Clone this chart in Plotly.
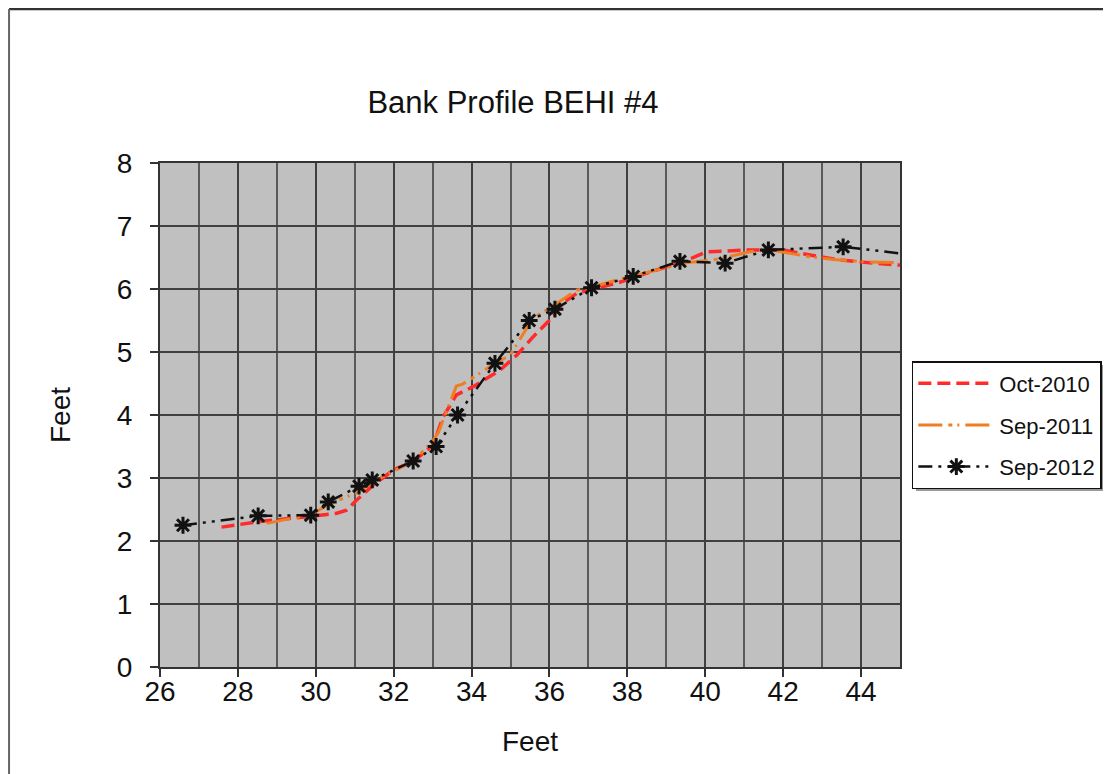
import plotly.graph_objects as go

# ---- data ----
oct2010_x = [27.58, 28.57, 29.85, 30.54, 30.79, 31.05, 31.48, 32.0, 32.5, 33.01, 33.27, 33.61,
             34.04, 34.73, 35.16, 35.58, 36.01, 36.35, 36.7, 37.08, 37.72, 38.58, 39.43, 40.03,
             41.15, 42.0, 42.69, 43.46, 44.31, 45.0]
oct2010_y = [2.22, 2.31, 2.39, 2.44, 2.49, 2.65, 2.89, 3.13, 3.26, 3.52, 3.97, 4.32,
             4.45, 4.71, 4.95, 5.24, 5.51, 5.78, 5.93, 6.0, 6.09, 6.27, 6.43, 6.59,
             6.62, 6.62, 6.54, 6.46, 6.41, 6.38]

sep2011_x = [28.74, 29.87, 30.4, 31.1, 31.5, 32.5, 33.0, 33.15, 33.27, 33.45, 33.61, 33.77,
             34.13, 34.6, 34.99, 35.58, 36.14, 36.69, 37.08, 37.72, 38.75, 39.43, 40.2, 41.15,
             41.6, 42.0, 42.69, 43.29, 44.14, 45.0]
sep2011_y = [2.28, 2.42, 2.6, 2.78, 2.95, 3.27, 3.58, 3.73, 3.92, 4.19, 4.46, 4.49,
             4.63, 4.82, 4.95, 5.54, 5.75, 5.98, 6.03, 6.14, 6.3, 6.41, 6.46, 6.59,
             6.63, 6.59, 6.51, 6.47, 6.43, 6.42]

sep2012_x = [26.59, 28.52, 29.87, 30.32, 31.11, 31.45, 32.5, 33.09, 33.64, 34.6, 35.48, 36.14,
             37.08, 38.15, 39.35, 40.51, 41.62, 43.54, 45.5]
sep2012_y = [2.25, 2.4, 2.41, 2.62, 2.87, 2.97, 3.27, 3.5, 4.0, 4.82, 5.5, 5.68,
             6.02, 6.2, 6.44, 6.41, 6.62, 6.67, 6.53]

x_ticks = [26, 28, 30, 32, 34, 36, 38, 40, 42, 44]
y_ticks = [0, 1, 2, 3, 4, 5, 6, 7, 8]

FONT = "Liberation Sans, Arial, sans-serif"

fig = go.Figure()
fig.add_trace(go.Scatter(
    x=oct2010_x, y=oct2010_y, name="Oct-2010", mode="lines", legendgroup="a",
    line=dict(color="#ff2a2a", width=3.5, dash="13px,6px"),
))
fig.add_trace(go.Scatter(
    x=sep2011_x, y=sep2011_y, name="Sep-2011", mode="lines", legendgroup="b",
    line=dict(color="#f07d22", width=3, dash="24px,6px,4px,5px,2px,6px"),
))
fig.add_trace(go.Scatter(
    x=sep2012_x, y=sep2012_y, name="Sep-2012", mode="lines+markers", legendgroup="c",
    line=dict(color="#111111", width=2.5, dash="14px,6px,3px,6px,3px,6px"),
    marker=dict(symbol="asterisk-open", size=14, color="#111111",
                line=dict(color="#111111", width=3)),
))

# the page body adds an 8px offset, margins below make up for it
fig.update_layout(
    width=1111, height=774,
    margin=dict(l=152, r=219, t=155, b=115),
    paper_bgcolor="white",
    plot_bgcolor="#c0c0c0",
    font=dict(family=FONT, color="#111111"),
    title=dict(text="Bank Profile BEHI #4", x=0.477, xref="paper", xanchor="center",
               y=1 - 94 / 774, yref="container", yanchor="middle",
               font=dict(size=31, family=FONT, color="#111111")),
    legend=dict(x=1.016, y=0.607, xanchor="left", yanchor="top",
                bgcolor="white", bordercolor="#111111", borderwidth=1.5,
                font=dict(size=22, family=FONT, color="#111111"),
                itemwidth=76, tracegroupgap=10),
    showlegend=True,
)

fig.update_xaxes(
    range=[26, 45], tickvals=x_ticks, ticks="outside", ticklen=8, tickwidth=1.5,
    tickcolor="#333333", tickfont=dict(size=28), ticklabelstandoff=-10,
    showline=True, linecolor="#333333", linewidth=2, mirror=True,
    showgrid=True, gridcolor="#404040", gridwidth=2,
    minor=dict(dtick=1, showgrid=True, gridcolor="#5a5a5a", gridwidth=1.5),
    zeroline=False,
    title=dict(text="Feet", font=dict(size=28), standoff=26),
)
fig.update_yaxes(
    range=[0, 8], tickvals=y_ticks, ticks="outside", ticklen=8, tickwidth=1.5,
    tickcolor="#333333", tickfont=dict(size=28), ticklabelstandoff=12,
    showline=True, linecolor="#333333", linewidth=2, mirror=True,
    showgrid=True, gridcolor="#404040", gridwidth=2,
    zeroline=False,
    title=dict(text="Feet", font=dict(size=28), standoff=38),
)

# page border (top and left) and legend shadow
fig.add_shape(type="line", xref="paper", yref="paper", x0=-0.204, x1=1.3, y0=1.3056, y1=1.3056,
              line=dict(color="#333333", width=2.5))
fig.add_shape(type="line", xref="paper", yref="paper", x0=-0.204, x1=-0.204, y0=1.3056, y1=-0.25,
              line=dict(color="#666666", width=2))
fig.add_shape(type="rect", xref="paper", yref="paper", x0=1.0216, x1=1.2838, y0=0.349, y1=0.599,
              fillcolor="#9a9a9a", line=dict(width=0), layer="below")

fig.write_html("out.html")
